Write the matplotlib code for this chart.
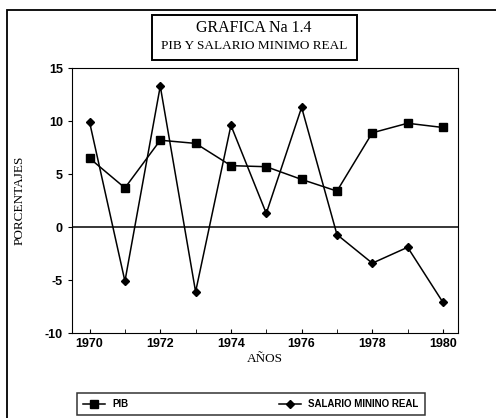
import matplotlib.pyplot as plt
from matplotlib.patches import Rectangle
import numpy as np

plt.rcParams['axes.unicode_minus'] = False

years = [1970, 1971, 1972, 1973, 1974, 1975, 1976, 1977, 1978, 1979, 1980]
pib = [6.5, 3.7, 8.2, 7.9, 5.8, 5.7, 4.5, 3.4, 8.9, 9.8, 9.4]
salario = [9.9, -5.1, 13.3, -6.1, 9.6, 1.3, 11.3, -0.7, -3.4, -1.9, -7.1]
xticks = [1970, 1972, 1974, 1976, 1978, 1980]
yticks = [-10, -5, 0, 5, 10, 15]

fig = plt.figure(figsize=(4.96, 4.18), dpi=100)
ax = fig.add_axes([0.145, 0.203, 0.778, 0.634])

# marco exterior
fig.patches.append(Rectangle((7/496, -0.05), 1.0, 1 - 10/418 + 0.05, transform=fig.transFigure,
                             fill=False, edgecolor='black', lw=1.3))

ax.plot(years, pib, color='black', lw=1.1, marker='s', ms=6, label='PIB')
ax.plot(years, salario, color='black', lw=1.1, marker='D', ms=4, label='SALARIO MININO REAL')
ax.axhline(0, color='black', lw=1.1)

ax.set_xlim(1969.5, 1980.42)
ax.set_ylim(-10, 15)
ax.set_xticks(xticks)
ax.set_xticks(years, minor=True)
ax.set_yticks(yticks)
ax.tick_params(axis='x', which='both', direction='in', length=3, labelsize=9)
ax.tick_params(axis='y', direction='out', length=3, labelsize=9)
for lab in ax.get_xticklabels() + ax.get_yticklabels():
    lab.set_fontweight('bold')
    lab.set_family('Liberation Sans')

ax.set_xlabel('AÑOS', family='Liberation Serif', fontsize=9.5, labelpad=2)
ax.set_ylabel('PORCENTAJES', family='Liberation Serif', fontsize=9.5, labelpad=14)

# cuadro del titulo
fig.patches.append(Rectangle((152/496, 1 - 60/418), 205/496, 45/418, transform=fig.transFigure,
                             fill=False, edgecolor='black', lw=1.4))
fig.text(254/496, 1 - 28/418, 'GRAFICA Na 1.4', ha='center', va='center',
         family='Liberation Serif', fontsize=11.5)
fig.text(254/496, 1 - 46/418, 'PIB Y SALARIO MINIMO REAL', ha='center', va='center',
         family='Liberation Serif', fontsize=9.5)

leg = fig.legend(loc='center', bbox_to_anchor=(251/496, 1 - 404/418), ncol=2, frameon=True,
                 fancybox=False, edgecolor='black', columnspacing=15.5, handlelength=2.2,
                 prop={'family': 'Liberation Sans', 'size': 7, 'weight': 'bold'}, borderpad=0.6)
leg.get_frame().set_linewidth(1.1)

fig.savefig('out.png', dpi=100)
